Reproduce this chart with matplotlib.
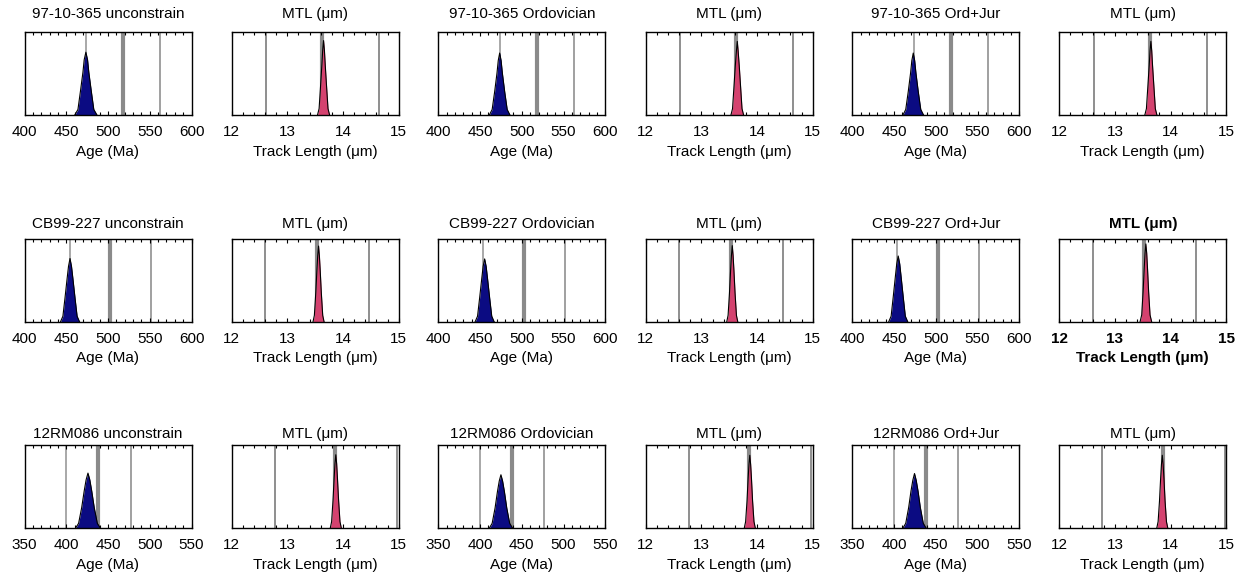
import matplotlib
matplotlib.use("Agg")
import matplotlib.pyplot as plt
from matplotlib.ticker import MultipleLocator

plt.rcParams['font.family'] = ['Liberation Sans', 'DejaVu Sans']

samples = ['97-10-365', 'CB99-227', '12RM086']
models = ['unconstrain', 'Ordovician', 'Ord+Jur']

age_xlim = [(400, 600), (400, 600), (350, 550)]
mtl_xlim = (12, 15)

# observed value lines: [lower, observed, upper]
age_lines = [[474, 518, 562], [454, 502.5, 551.5], [400, 438.5, 477]]
mtl_lines = [[12.62, 13.63, 14.65], [12.60, 13.53, 14.46], [12.77, 13.86, 14.97]]

# predicted distributions (x, relative height) per sample/model
age_x = [
    [[460, 464, 467, 470, 471.5, 473.5, 475.5, 477, 480, 483, 487],
     [461, 464.5, 467.5, 470.3, 471.8, 473.5, 475.2, 476.7, 479.5, 482.5, 486],
     [460.5, 464, 467, 469.8, 471.3, 473, 474.7, 476.2, 479, 482, 485.5]],
    [[443, 446, 448.5, 451, 452.7, 454.5, 456.3, 458, 460.5, 463, 466],
     [444, 447, 449.5, 452, 453.7, 455.5, 457.3, 459, 461.5, 464, 467],
     [443.5, 446.5, 449, 451.5, 453.2, 455, 456.8, 458.5, 461, 463.5, 466.5]],
    [[411, 414.8, 418.5, 421.5, 423.8, 426, 428.2, 430.5, 433.5, 437.2, 441],
     [411, 414.5, 418, 420.8, 423, 425, 427, 429.2, 432, 435.5, 439],
     [410.5, 414, 417.5, 420.3, 422.5, 424.5, 426.5, 428.7, 431.5, 435, 438.5]],
]
age_y = [
    [[0, .07, .29, .52, .67, .76, .67, .52, .29, .07, 0],
     [0, .07, .285, .51, .66, .75, .66, .51, .285, .07, 0],
     [0, .07, .285, .51, .66, .75, .66, .51, .285, .07, 0]],
    [[0, .07, .29, .52, .67, .765, .67, .52, .29, .07, 0],
     [0, .07, .29, .52, .67, .76, .67, .52, .29, .07, 0],
     [0, .07, .30, .54, .70, .795, .70, .54, .30, .07, 0]],
    [[0, .06, .25, .45, .585, .665, .585, .45, .25, .06, 0],
     [0, .06, .245, .44, .57, .645, .57, .44, .245, .06, 0],
     [0, .06, .25, .45, .58, .66, .58, .45, .25, .06, 0]],
]
mtl_x = [
    [[13.54, 13.57, 13.595, 13.62, 13.635, 13.65, 13.665, 13.68, 13.705, 13.73, 13.76],
     [13.53, 13.56, 13.585, 13.61, 13.63, 13.645, 13.66, 13.68, 13.705, 13.73, 13.76],
     [13.535, 13.565, 13.59, 13.615, 13.63, 13.645, 13.66, 13.675, 13.70, 13.725, 13.755]],
    [[13.46, 13.485, 13.51, 13.53, 13.545, 13.56, 13.575, 13.59, 13.61, 13.635, 13.66],
     [13.455, 13.48, 13.505, 13.525, 13.54, 13.555, 13.57, 13.585, 13.605, 13.63, 13.655],
     [13.45, 13.48, 13.505, 13.525, 13.54, 13.555, 13.57, 13.585, 13.605, 13.63, 13.66]],
    [[13.77, 13.795, 13.82, 13.84, 13.855, 13.87, 13.885, 13.90, 13.92, 13.945, 13.97],
     [13.77, 13.795, 13.82, 13.84, 13.855, 13.87, 13.885, 13.90, 13.92, 13.945, 13.97],
     [13.75, 13.775, 13.80, 13.82, 13.835, 13.85, 13.865, 13.88, 13.90, 13.925, 13.95]],
]
mtl_y = [
    [[0, .08, .34, .61, .79, .90, .79, .61, .34, .08, 0],
     [0, .08, .34, .60, .78, .89, .78, .60, .34, .08, 0],
     [0, .08, .34, .60, .78, .89, .78, .60, .34, .08, 0]],
    [[0, .08, .35, .62, .80, .915, .80, .62, .35, .08, 0],
     [0, .08, .35, .62, .80, .92, .80, .62, .35, .08, 0],
     [0, .085, .36, .64, .83, .94, .83, .64, .36, .085, 0]],
    [[0, .08, .34, .60, .78, .886, .78, .60, .34, .08, 0],
     [0, .08, .33, .60, .77, .88, .77, .60, .33, .08, 0],
     [0, .08, .33, .60, .77, .88, .77, .60, .33, .08, 0]],
]

AGE_COLOR = '#0b0b82'
MTL_COLOR = '#d4426f'

W, H = 1242, 581
fig = plt.figure(figsize=(W / 100, H / 100), dpi=100)

col_left = [24.5, 231.7, 438.3, 645.7, 852.3, 1059.3]
row_top = [32.3, 239.0, 445.3]
ax_w, ax_h = 167.0, 83.0
title_pad = [10, 8, 5.5]

for r in range(3):
    for m in range(3):
        for kind in range(2):
            c = 2 * m + kind
            ax = fig.add_axes([col_left[c] / W, 1 - (row_top[r] + ax_h) / H, ax_w / W, ax_h / H])
            bold = (r == 1 and c == 5)
            fw = 'bold' if bold else 'normal'
            if kind == 0:
                lo, mid, hi = age_lines[r]
                xs, ys = age_x[r][m], age_y[r][m]
                col = AGE_COLOR
                ax.set_xlim(*age_xlim[r])
                ax.xaxis.set_major_locator(MultipleLocator(50))
                ax.xaxis.set_minor_locator(MultipleLocator(10))
                title = f'{samples[r]} {models[m]}'
                xlabel = 'Age (Ma)'
                ax.axvline(lo, color='#a8a8a8', lw=1.4, zorder=1)
                ax.axvline(hi, color='#a0a0a0', lw=1.4, zorder=1)
                ax.axvline(mid, color='#8a8a8a', lw=3.0, zorder=1)
            else:
                lo, mid, hi = mtl_lines[r]
                xs, ys = mtl_x[r][m], mtl_y[r][m]
                col = MTL_COLOR
                ax.set_xlim(*mtl_xlim)
                ax.xaxis.set_major_locator(MultipleLocator(1))
                ax.xaxis.set_minor_locator(MultipleLocator(0.2))
                title = 'MTL (μm)'
                xlabel = 'Track Length (μm)'
                ax.axvline(lo, color='#8e8e8e', lw=1.4, zorder=1)
                ax.axvline(hi, color='#8e8e8e', lw=1.4, zorder=1)
                ax.axvline(mid, color='#8a8a8a', lw=3.0, zorder=1)
            ax.fill_between(xs, 0, ys, color=col, zorder=2, lw=0)
            ax.plot(xs, ys, color='black', lw=0.8, zorder=3)
            ax.set_ylim(0, 1)
            ax.set_yticks([])
            ax.tick_params(axis='x', which='both', direction='in', top=True, bottom=True,
                           labelsize=11, pad=7, width=0.8)
            ax.tick_params(axis='x', which='major', length=3)
            ax.tick_params(axis='x', which='minor', length=2.5)
            for lab in ax.get_xticklabels():
                lab.set_fontweight(fw)
            ax.set_title(title, fontsize=11, pad=title_pad[r], fontweight=fw)
            ax.set_xlabel(xlabel, fontsize=11, labelpad=4, fontweight=fw)
            for s in ax.spines.values():
                s.set_linewidth(1.0)
                s.set_zorder(4)

fig.savefig('out.png', dpi=100)
